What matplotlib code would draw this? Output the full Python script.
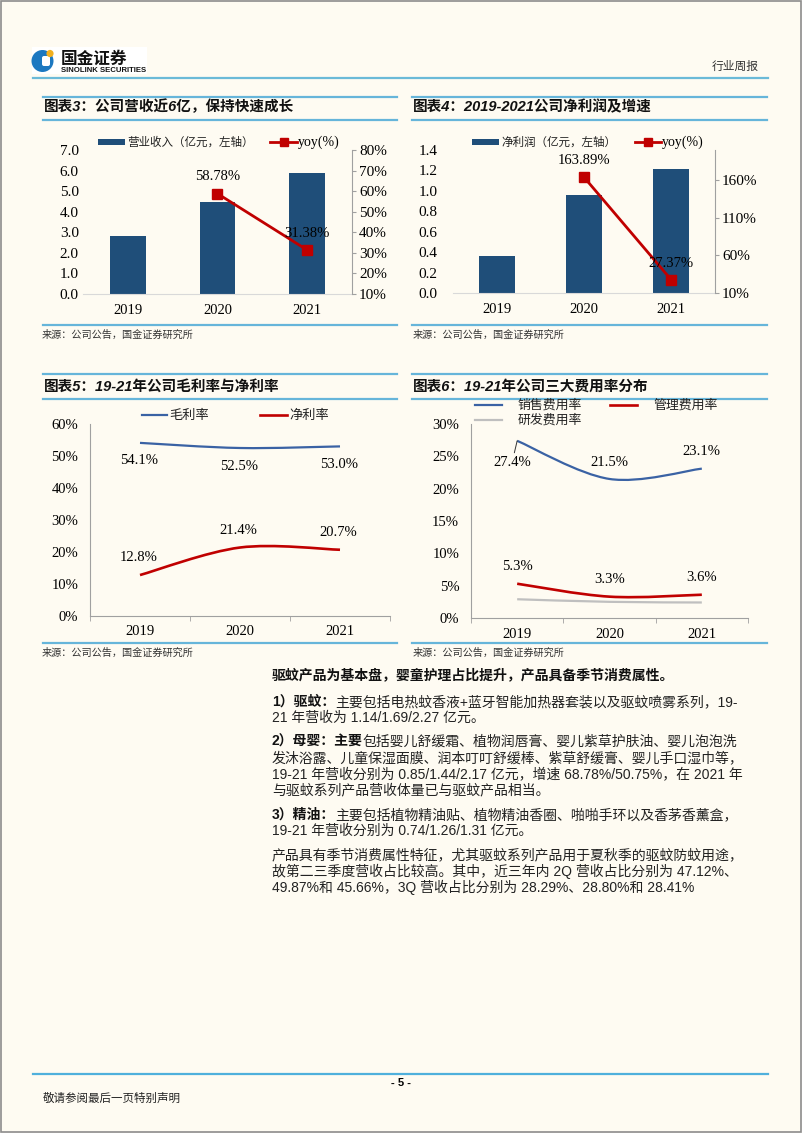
import matplotlib
matplotlib.use('Agg')
import matplotlib.pyplot as plt
from matplotlib.patches import Rectangle, Circle, PathPatch, FancyBboxPatch
from matplotlib.lines import Line2D
from matplotlib.path import Path
import numpy as np

# ---------------- data ----------------
years = ['2019', '2020', '2021']
revenue = [2.83, 4.47, 5.87]            # 营业收入（亿元）
revenue_yoy = [58.78, 31.38]            # 2020, 2021
profit = [0.365, 0.957, 1.214]          # 净利润（亿元）
profit_yoy = [163.89, 27.37]            # 2020, 2021
gross_margin = [54.1, 52.5, 53.0]       # 毛利率 %
net_margin = [12.8, 21.4, 20.7]         # 净利率 %
selling_rate = [27.4, 21.5, 23.1]       # 销售费用率 %
admin_rate = [5.3, 3.3, 3.6]            # 管理费用率 %
rd_rate = [2.9, 2.5, 2.4]               # 研发费用率 %

rev_ticks = [0, 1, 2, 3, 4, 5, 6, 7]
rev_yoy_ticks = [10, 20, 30, 40, 50, 60, 70, 80]
pro_ticks = [0.0, 0.2, 0.4, 0.6, 0.8, 1.0, 1.2, 1.4]
pro_yoy_ticks = [10, 60, 110, 160]
margin_ticks = [0, 10, 20, 30, 40, 50, 60]
fee_ticks = [0, 5, 10, 15, 20, 25, 30]

titles = ['图表3：公司营收近6亿，保持快速成长',
          '图表4：2019-2021公司净利润及增速',
          '图表5：19-21年公司毛利率与净利率',
          '图表6：19-21年公司三大费用率分布']
source = '来源：公司公告，国金证券研究所'

# ---------------- style ----------------
W, H = 802, 1133
BG = '#FEFBF2'
NAVY = '#1F4E79'
RED = '#C00000'
BLUE = '#3A62A4'
GRAY = '#BFBFBF'
RULE = '#66B5DA'
AXC = '#A0A0A0'
SERIF = ['Liberation Serif', 'Noto Sans CJK SC']
SANS = ['Liberation Sans', 'Noto Sans CJK SC']
CJK = ['Noto Sans CJK SC', 'DejaVu Sans']

fig = plt.figure(figsize=(W / 100, H / 100), dpi=100)
fig.patch.set_facecolor(BG)

page = fig.add_axes([0, 0, 1, 1])
page.set_xlim(0, W)
page.set_ylim(H, 0)
page.axis('off')
page.set_zorder(0)
page.patch.set_alpha(0)


def add_ax(x0, y0, x1, y1):
    ax = fig.add_axes([x0 / W, 1 - y1 / H, (x1 - x0) / W, (y1 - y0) / H])
    ax.set_facecolor('none')
    ax.set_zorder(2)
    return ax


def hline(x0, x1, y, color=RULE, lw=1.6):
    page.add_line(Line2D([x0, x1], [y, y], color=color, lw=lw))


def smooth_path(xs, ys):
    pts = np.column_stack([xs, ys]).astype(float)
    n = len(pts)
    verts = [pts[0]]
    codes = [Path.MOVETO]
    for i in range(n - 1):
        p0 = pts[max(i - 1, 0)]
        p1 = pts[i]
        p2 = pts[i + 1]
        p3 = pts[min(i + 2, n - 1)]
        verts += [p1 + (p2 - p0) / 6.0, p2 - (p3 - p1) / 6.0, p2]
        codes += [Path.CURVE4] * 3
    return Path(verts, codes)


# ---------------- page decorations ----------------
page.add_patch(Rectangle((0.5, 0.5), W - 1.5, H - 1.5, fill=False, ec='#8C8C8C', lw=1.2))
# logo
page.add_patch(Rectangle((32, 47), 115, 27, fc='white', ec='none'))
page.add_patch(Circle((42.5, 61), 11, fc='#1C78C0', ec='none'))
page.add_patch(FancyBboxPatch((42, 56), 8, 10, boxstyle='round,pad=0,rounding_size=2', fc='white', ec='none'))
page.add_patch(Circle((50, 53.5), 3.6, fc='#F2B01E', ec='none'))
page.text(61, 58.5, '国金证券', family=CJK, weight='bold', fontsize=12, va='center', ha='left', color='#111111')
page.text(61, 70.5, 'SINOLINK SECURITIES', family=SANS, weight='bold', fontsize=5.6, va='center', ha='left', color='#111111')
page.text(759, 66, '行业周报', family=CJK, fontsize=8.5, va='center', ha='right', color='#333333')
hline(33, 768, 77.5, color='#6BBAD8', lw=1.6)
# footer
hline(33, 768, 1074, color='#4FB0DC', lw=1.6)
page.text(401, 1083, '- 5 -', family=SANS, weight='bold', fontsize=8, ha='center', va='center')
page.text(43, 1098, '敬请参阅最后一页特别声明', family=CJK, fontsize=8.3, ha='left', va='center', color='#222222')

# chart titles / rules / sources
title_pos = [(44, 107), (413, 107), (44, 387), (413, 387)]
for t, (tx, ty) in zip(titles, title_pos):
    page.text(tx, ty, t, family=SANS, weight='bold', style='italic', fontsize=10.5,
              ha='left', va='center', color='#111111')
for yy in [97, 120, 325, 374, 399, 643]:
    hline(43, 397, yy)
    hline(412, 767, yy)
for sx, sy in [(42, 335), (413, 335), (42, 653), (413, 653)]:
    page.text(sx, sy, source, family=CJK, fontsize=7.3, ha='left', va='center', color='#333333')

x = np.arange(len(years))


def style_cat_axis(ax, pad, size=10):
    ax.set_xlim(-0.5, 2.5)
    ax.set_xticks(x)
    ax.set_xticklabels(years, family=SERIF, fontsize=size)
    ax.tick_params(axis='x', length=0, pad=pad)


def bar_chart(rect, vals, width, ticks, fmt, lpad, yoy, yoy_ticks, yoy_lim):
    ax = add_ax(*rect)
    ax.bar(x, vals, width=width, color=NAVY, zorder=2)
    ax.set_ylim(ticks[0], ticks[-1])
    ax.set_yticks(ticks)
    ax.set_yticklabels([fmt % v for v in ticks], family=SERIF, fontsize=11)
    ax.tick_params(axis='y', length=0, pad=lpad)
    style_cat_axis(ax, 7.5, 10.5)
    for s in ['left', 'top', 'right']:
        ax.spines[s].set_visible(False)
    ax.spines['bottom'].set_color('#D9D9D9')
    ax2 = ax.twinx()
    ax2.set_ylim(*yoy_lim)
    ax2.set_yticks(yoy_ticks)
    ax2.set_yticklabels(['%d%%' % v for v in yoy_ticks], family=SERIF, fontsize=11)
    ax2.tick_params(axis='y', length=3, pad=2, color=AXC)
    for s in ['left', 'top', 'bottom']:
        ax2.spines[s].set_visible(False)
    ax2.spines['right'].set_color(AXC)
    ax2.plot(x[1:], yoy, color=RED, lw=2, marker='s', ms=7, zorder=3)
    for xi, v in zip(x[1:], yoy):
        ax2.annotate('%.2f%%' % v, (xi, v), xytext=(0, 12), textcoords='offset points',
                     ha='center', va='center', family=SERIF, fontsize=10.5)
    return ax


# ---------------- chart 3 ----------------
bar_chart((83, 150, 352, 294), revenue, 0.4, rev_ticks, '%.1f', 3,
          revenue_yoy, rev_yoy_ticks, (10, 80))
page.add_patch(Rectangle((98, 139), 27, 6, fc=NAVY, ec='none'))
page.text(127, 142, '营业收入（亿元，左轴）', family=CJK, fontsize=8.3, ha='left', va='center', color='#222222')
page.add_line(Line2D([270, 297], [142, 142], color=RED, lw=2))
page.add_line(Line2D([283.5], [142], color=RED, marker='s', ms=6, lw=0))
page.text(298, 142, 'yoy(%)', family=SERIF, fontsize=10, ha='left', va='center')

# ---------------- chart 4 ----------------
bar_chart((453, 150, 715, 293), profit, 0.41, pro_ticks, '%.1f', 11,
          profit_yoy, pro_yoy_ticks, (10, 200))
page.add_patch(Rectangle((472, 139), 27, 6, fc=NAVY, ec='none'))
page.text(501, 142, '净利润（亿元，左轴）', family=CJK, fontsize=8.3, ha='left', va='center', color='#222222')
page.add_line(Line2D([635, 661], [142, 142], color=RED, lw=2))
page.add_line(Line2D([648], [142], color=RED, marker='s', ms=6, lw=0))
page.text(662, 142, 'yoy(%)', family=SERIF, fontsize=10, ha='left', va='center')


def style_line_axes(ax, ticks, ylim, pad_x):
    ax.set_ylim(*ylim)
    ax.set_yticks(ticks)
    ax.set_yticklabels(['%d%%' % v for v in ticks], family=SERIF, fontsize=10.5)
    ax.tick_params(axis='y', length=0, pad=8.5)
    style_cat_axis(ax, pad_x, 10.5)
    ax.set_xticks([-0.5, 0.5, 1.5, 2.5], minor=True)
    ax.tick_params(axis='x', which='minor', length=3.5, color=AXC, direction='out')
    for s in ['top', 'right']:
        ax.spines[s].set_visible(False)
    for s in ['left', 'bottom']:
        ax.spines[s].set_color(AXC)
        ax.spines[s].set_linewidth(0.8)


# ---------------- chart 5 ----------------
ax = add_ax(90, 424, 390, 616)
style_line_axes(ax, margin_ticks, (0, 60), 6.5)
ax.add_patch(PathPatch(smooth_path(x, gross_margin), fc='none', ec=BLUE, lw=1.6))
ax.add_patch(PathPatch(smooth_path(x, net_margin), fc='none', ec=RED, lw=1.9))
for xi, v in zip(x, gross_margin):
    ax.annotate('%.1f%%' % v, (xi, v), xytext=(-1, -13), textcoords='offset points',
                ha='center', va='center', family=SERIF, fontsize=10.5)
for xi, v in zip(x, net_margin):
    ax.annotate('%.1f%%' % v, (xi, v), xytext=(-1, 12.3), textcoords='offset points',
                ha='center', va='center', family=SERIF, fontsize=10.5)
page.add_line(Line2D([142, 167], [415, 415], color=BLUE, lw=1.6))
page.text(169, 415, '毛利率', family=CJK, fontsize=9.5, ha='left', va='center', color='#222222')
page.add_line(Line2D([260, 287], [415, 415], color=RED, lw=1.9))
page.text(289, 415, '净利率', family=CJK, fontsize=9.5, ha='left', va='center', color='#222222')

# ---------------- chart 6 ----------------
ax = add_ax(471, 424, 748, 618)
style_line_axes(ax, fee_ticks, (0, 30), 7)
ax.add_patch(PathPatch(smooth_path(x, selling_rate), fc='none', ec=BLUE, lw=1.6))
ax.add_patch(PathPatch(smooth_path(x, admin_rate), fc='none', ec=RED, lw=1.9))
ax.add_patch(PathPatch(smooth_path(x, rd_rate), fc='none', ec=GRAY, lw=1.6))
ax.annotate('%.1f%%' % selling_rate[0], (x[0], selling_rate[0]), xytext=(-3.6, -15.3),
            textcoords='offset points', ha='center', va='center', family=SERIF, fontsize=10.5,
            arrowprops=dict(arrowstyle='-', color='#333333', lw=0.7, shrinkA=0, shrinkB=0))
for xi, v in zip(x[1:], selling_rate[1:]):
    ax.annotate('%.1f%%' % v, (xi, v), xytext=(0, 12), textcoords='offset points',
                ha='center', va='center', family=SERIF, fontsize=10.5)
for xi, v in zip(x, admin_rate):
    ax.annotate('%.1f%%' % v, (xi, v), xytext=(0, 12.3), textcoords='offset points',
                ha='center', va='center', family=SERIF, fontsize=10.5)
page.add_line(Line2D([475, 502], [405, 405], color=BLUE, lw=1.6))
page.text(518, 405, '销售费用率', family=CJK, fontsize=9.3, ha='left', va='center', color='#222222')
page.add_line(Line2D([610, 637], [405, 405], color=RED, lw=1.9))
page.text(653, 405, '管理费用率', family=CJK, fontsize=9.3, ha='left', va='center', color='#222222')
page.add_line(Line2D([475, 502], [420, 420], color=GRAY, lw=1.6))
page.text(518, 420, '研发费用率', family=CJK, fontsize=9.3, ha='left', va='center', color='#222222')

# ---------------- body text ----------------
TX = 272
FS = 10
body = [
    (675, '驱蚊产品为基本盘，婴童护理占比提升，产品具备季节消费属性。', ''),
    (702, '1）驱蚊：', '主要包括电热蚊香液+蓝牙智能加热器套装以及驱蚊喷雾系列，19-'),
    (718, '', '21 年营收为 1.14/1.69/2.27 亿元。'),
    (742, '2）母婴：主要', '包括婴儿舒缓霜、植物润唇膏、婴儿紫草护肤油、婴儿泡泡洗'),
    (758, '', '发沐浴露、儿童保湿面膜、润本叮叮舒缓棒、紫草舒缓膏、婴儿手口湿巾等，'),
    (774, '', '19-21 年营收分别为 0.85/1.44/2.17 亿元，增速 68.78%/50.75%，在 2021 年'),
    (790, '', '与驱蚊系列产品营收体量已与驱蚊产品相当。'),
    (815, '3）精油：', '主要包括植物精油贴、植物精油香圈、啪啪手环以及香茅香薰盒，'),
    (831, '', '19-21 年营收分别为 0.74/1.26/1.31 亿元。'),
    (855, '', '产品具有季节消费属性特征，尤其驱蚊系列产品用于夏秋季的驱蚊防蚊用途，'),
    (871, '', '故第二三季度营收占比较高。其中，近三年内 2Q 营收占比分别为 47.12%、'),
    (887, '', '49.87%和 45.66%，3Q 营收占比分别为 28.29%、28.80%和 28.41%'),
]
for y, bold, rest in body:
    if bold:
        t = page.text(TX, y, bold, family=SANS, weight='bold', fontsize=FS,
                      ha='left', va='center', color='#111111')
        if rest:
            page.annotate(rest, xy=(1, 0), xycoords=t, ha='left', va='bottom',
                          family=SANS, fontsize=FS, color='#222222')
    else:
        page.text(TX, y, rest, family=SANS, fontsize=FS, ha='left', va='center', color='#222222')

fig.savefig('out.png', dpi=100, facecolor=BG)
